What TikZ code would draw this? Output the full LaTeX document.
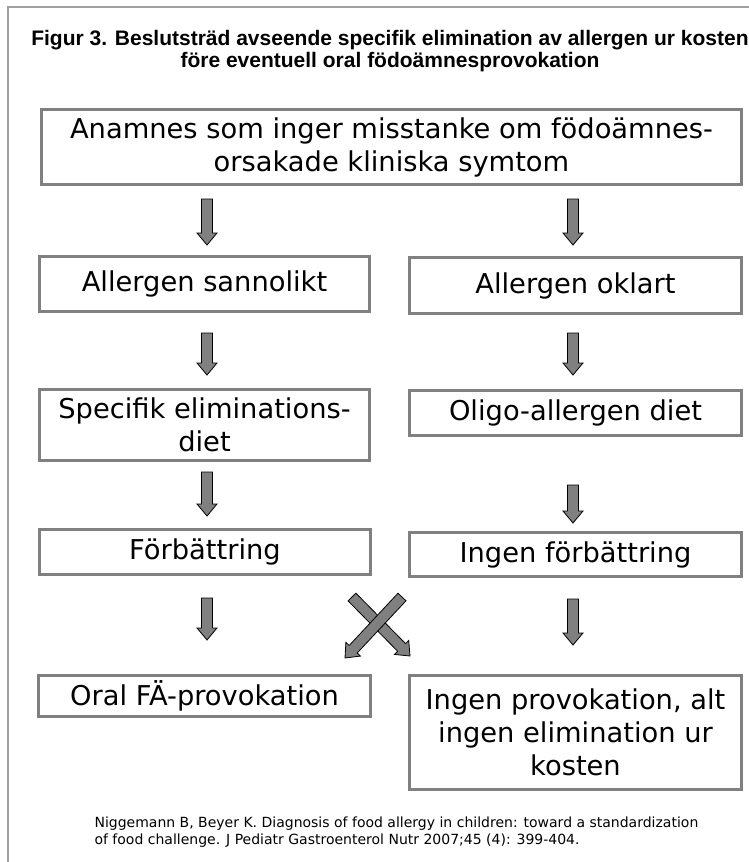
\documentclass[tikz,border=0pt]{standalone}
\usepackage{fontspec}
\setmainfont{DejaVu Sans}
\newfontfamily\titlefont{Liberation Sans}
\usetikzlibrary{calc}
\definecolor{boxgray}{RGB}{128,128,128}
\definecolor{framegray}{RGB}{160,160,160}
\definecolor{arrgray}{RGB}{128,128,128}
\tikzset{
  flowbox/.style={draw=boxgray, line width=3pt, fill=white, rectangle, align=center,
    inner sep=0pt, font=\fontsize{27.3}{33}\selectfont},
  blockarrow/.style={draw=black, fill=arrgray, line width=0.8pt, line join=miter},
}
\newcommand\blk[2]{%
  \coordinate (hb) at ($(#2)!12pt!(#1)$);
  \draw[blockarrow] ($(#1)!5.5pt!90:(#2)$) -- ($(hb)!5.5pt!90:(#2)$) -- ($(hb)!10pt!90:(#2)$) -- (#2)
    -- ($(hb)!10pt!-90:(#2)$) -- ($(hb)!5.5pt!-90:(#2)$) -- ($(#1)!5.5pt!-90:(#2)$) -- cycle;}
\begin{document}
\begin{tikzpicture}[x=1pt,y=-1pt]
\useasboundingbox (0,0) rectangle (749,862);
\fill[white] (0,0) rectangle (749,862);
% frame
\draw[framegray, line width=2pt] (8,862) -- (8,7) -- (749,7);
% title
\node[font=\titlefont\bfseries\fontsize{21}{21.5}\selectfont, align=center] (title) at (390,51)
  {Figur 3. Beslutsträd avseende specifik elimination av allergen ur kosten\\före eventuell oral födoämnesprovokation};
% boxes
\node[flowbox, minimum width=700pt, minimum height=75pt] (n1) at (391.5,147)
  {Anamnes som inger misstanke om födoämnes-\\orsakade kliniska symtom};
\node[flowbox, minimum width=330pt, minimum height=55pt] (a1) at (204.5,284) {Allergen sannolikt};
\node[flowbox, minimum width=332pt, minimum height=56pt] (b1) at (575.5,285.5) {Allergen oklart};
\node[flowbox, minimum width=330pt, minimum height=71pt] (a2) at (204.5,425) {Specifik eliminations-\\diet};
\node[flowbox, minimum width=332pt, minimum height=45pt] (b2) at (575.5,413) {Oligo-allergen diet};
\node[flowbox, minimum width=331pt, minimum height=45pt] (a3) at (205,552) {Förbättring};
\node[flowbox, minimum width=332pt, minimum height=44pt] (b3) at (575.5,554.5) {Ingen förbättring};
\node[flowbox, minimum width=332pt, minimum height=41pt] (a4) at (204.5,696) {Oral FÄ-provokation};
\node[flowbox, minimum width=332pt, minimum height=114pt] (b4) at (575.5,732.5)
  {Ingen provokation, alt\\ingen elimination ur\\kosten};
% reference
\node[font=\fontsize{14}{17}\selectfont, align=left, anchor=north west] (ref) at (91,813)
  {Niggemann B, Beyer K. Diagnosis of food allergy in children: toward a standardization\\of food challenge. J Pediatr Gastroenterol Nutr 2007;45 (4): 399-404.};
% arrow coordinates
\coordinate (l1s) at (207,199); \coordinate (l1e) at (207,245);
\coordinate (r1s) at (573,199); \coordinate (r1e) at (573,245);
\coordinate (l2s) at (207,333); \coordinate (l2e) at (207,375);
\coordinate (r2s) at (573,333); \coordinate (r2e) at (573,375);
\coordinate (l3s) at (207,472); \coordinate (l3e) at (207,516);
\coordinate (r3s) at (573,485); \coordinate (r3e) at (573,523);
\coordinate (l4s) at (207,598); \coordinate (l4e) at (207,640);
\coordinate (r4s) at (573,599); \coordinate (r4e) at (573,645);
\coordinate (x1s) at (352,597); \coordinate (x1e) at (410,656);
\coordinate (x2s) at (402,597); \coordinate (x2e) at (345,658);
\blk{l1s}{l1e} \blk{r1s}{r1e}
\blk{l2s}{l2e} \blk{r2s}{r2e}
\blk{l3s}{l3e} \blk{r3s}{r3e}
\blk{l4s}{l4e} \blk{r4s}{r4e}
\blk{x1s}{x1e} \blk{x2s}{x2e}
\end{tikzpicture}
\end{document}
